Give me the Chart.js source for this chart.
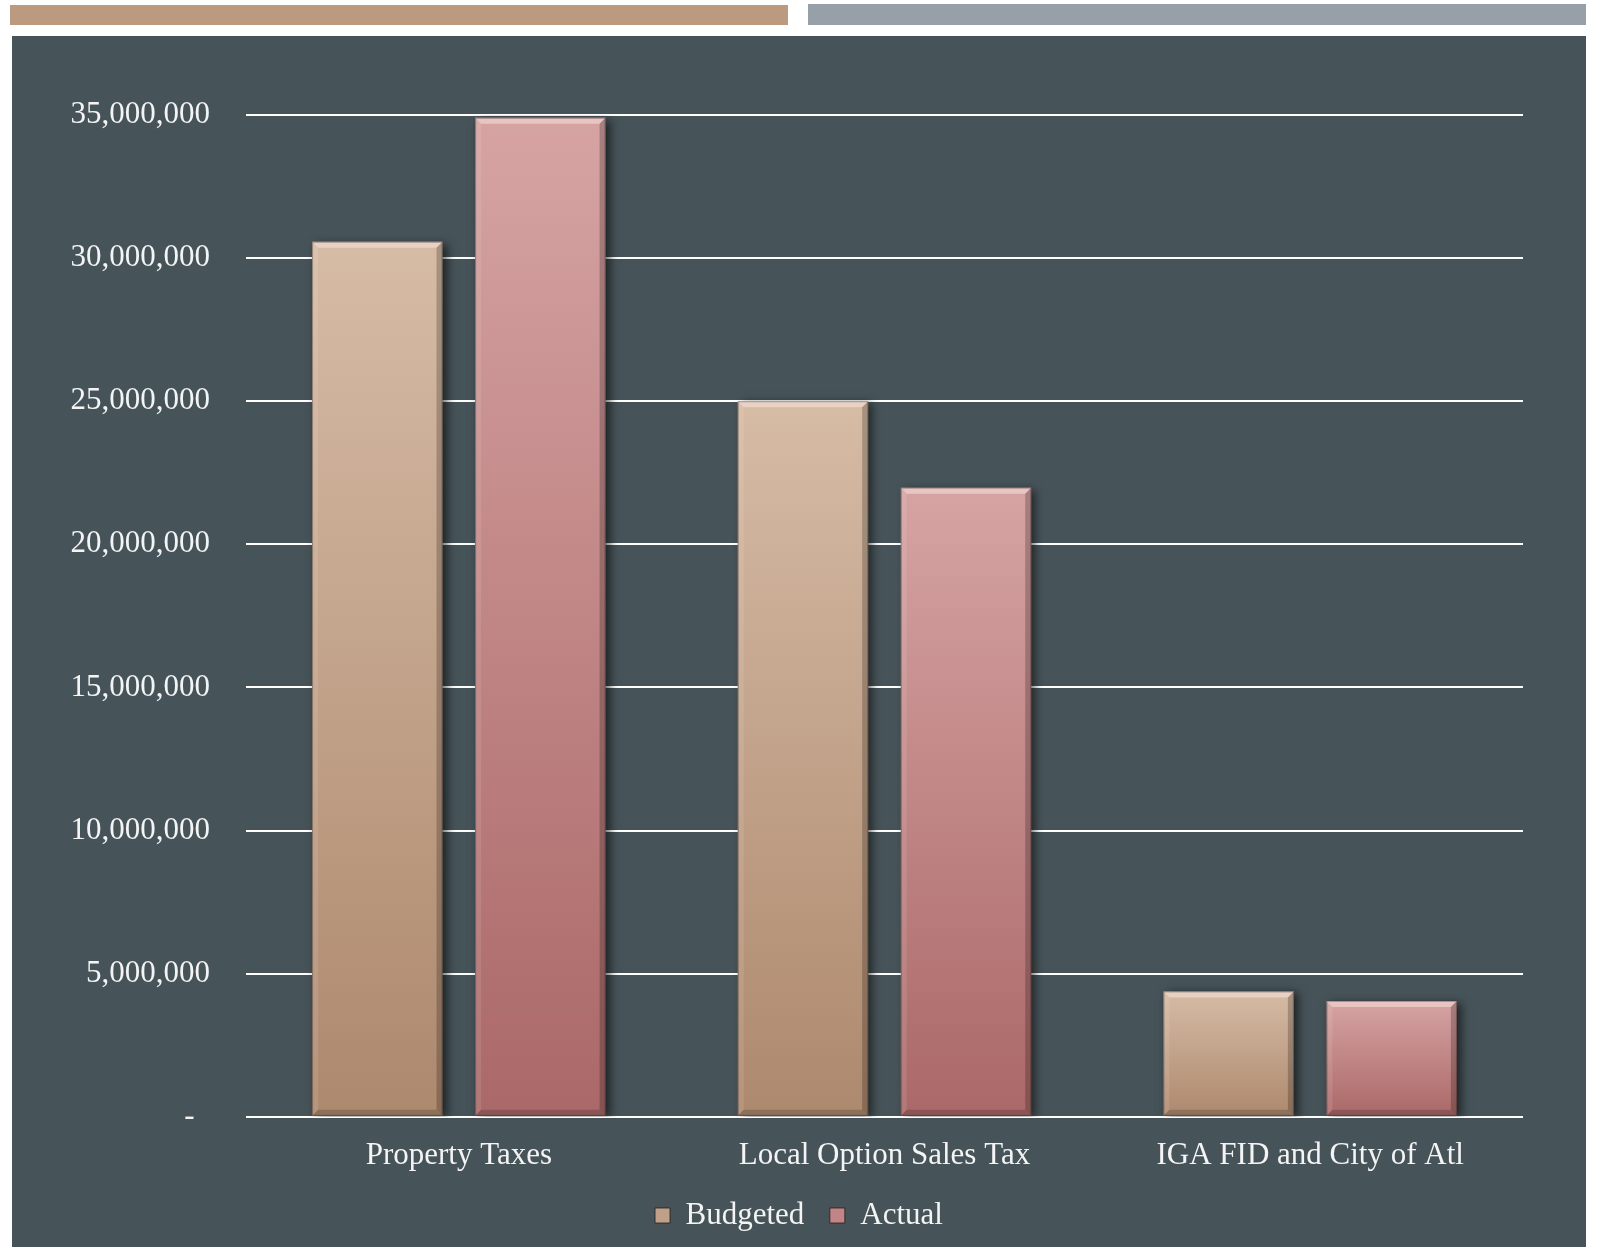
<!DOCTYPE html>
<html>
<head>
<meta charset="utf-8">
<script src="https://cdn.jsdelivr.net/npm/chart.js@4"></script>
<style>
  html, body { margin: 0; padding: 0; background: #ffffff; }
  body { width: 1601px; height: 1249px; position: relative; overflow: hidden; }
  .bar1 { position: absolute; left: 10px; top: 5px; width: 778px; height: 20px; background: #bc9a80; }
  .bar2 { position: absolute; left: 808px; top: 4px; width: 778px; height: 21px; background: #979fa9; }
  .panel { position: absolute; left: 12px; top: 36px; width: 1574px; height: 1211px; background: #465358; }
  canvas { display: block; }
</style>
</head>
<body>
<div class="bar1"></div>
<div class="bar2"></div>
<div class="panel"><canvas id="c" width="1574" height="1211"></canvas></div>
<script>
const categories = ["Property Taxes", "Local Option Sales Tax", "IGA FID and City of Atl"];
const seriesNames = ["Budgeted", "Actual"];
const budgeted = [30570000, 25000000, 4380000];
const actual = [34900000, 21980000, 4050000];
const yTicks = [0, 5000000, 10000000, 15000000, 20000000, 25000000, 30000000, 35000000];

const FONT = "'Liberation Serif', 'Times New Roman', serif";
const TEXT = '#f4f4f4';
const palettes = [
  { top: '#d6bba5', bottom: '#ad896e', solid: '#c0a088' },
  { top: '#d6a3a3', bottom: '#ab6868', solid: '#c28585' }
];

function barGradient(pal) {
  return function (ctx) {
    if (ctx.type !== 'data' || ctx.raw == null) return pal.solid;
    const chart = ctx.chart;
    const ys = chart.scales.y;
    if (!ys) return pal.solid;
    const yTop = ys.getPixelForValue(ctx.raw);
    const yBase = ys.getPixelForValue(0);
    if (!isFinite(yTop) || !isFinite(yBase) || yTop === yBase) return pal.solid;
    const g = chart.ctx.createLinearGradient(0, yTop, 0, yBase);
    g.addColorStop(0, pal.top);
    g.addColorStop(1, pal.bottom);
    return g;
  };
}

function poly(c, pts, fill) {
  c.beginPath();
  c.moveTo(pts[0][0], pts[0][1]);
  for (let i = 1; i < pts.length; i++) c.lineTo(pts[i][0], pts[i][1]);
  c.closePath();
  c.fillStyle = fill;
  c.fill();
}

const bevelPlugin = {
  id: 'bevel',
  beforeDatasetsDraw(chart) {
    const c = chart.ctx;
    c.save();
    c.shadowColor = 'rgba(0,0,0,0.6)';
    c.shadowBlur = 9;
    c.shadowOffsetX = 4;
    c.shadowOffsetY = 2;
  },
  afterDatasetsDraw(chart) {
    const c = chart.ctx;
    c.restore();
    const b = 6;
    chart.data.datasets.forEach((ds, di) => {
      const meta = chart.getDatasetMeta(di);
      meta.data.forEach(el => {
        const w = el.width;
        const l = el.x - w / 2, r = el.x + w / 2, t = el.y, bot = el.base;
        poly(c, [[l, t], [r, t], [r - b, t + b], [l + b, t + b]], 'rgba(255,240,235,0.45)');
        poly(c, [[l, t], [l + b, t + b], [l + b, bot - b], [l, bot]], 'rgba(255,255,255,0.10)');
        poly(c, [[r, t], [r - b, t + b], [r - b, bot - b], [r, bot]], 'rgba(0,0,0,0.22)');
        poly(c, [[l, bot], [l + b, bot - b], [r - b, bot - b], [r, bot]], 'rgba(0,0,0,0.18)');
        c.strokeStyle = 'rgba(40,30,30,0.35)';
        c.lineWidth = 1;
        c.strokeRect(l + 0.5, t + 0.5, w - 1, bot - t - 1);
      });
    });
  }
};

new Chart(document.getElementById('c'), {
  type: 'bar',
  data: {
    labels: categories,
    datasets: [
      { label: seriesNames[0], data: budgeted, backgroundColor: barGradient(palettes[0]), borderWidth: 0 },
      { label: seriesNames[1], data: actual, backgroundColor: barGradient(palettes[1]), borderWidth: 0 }
    ]
  },
  options: {
    responsive: false,
    animation: false,
    devicePixelRatio: 1,
    categoryPercentage: 0.766,
    barPercentage: 0.8,
    layout: { padding: { top: 79, right: 0, left: 0, bottom: 6 } },
    plugins: {
      tooltip: { enabled: false },
      legend: {
        position: 'bottom',
        labels: {
          color: TEXT,
          font: { family: FONT, size: 31 },
          boxWidth: 15,
          boxHeight: 15,
          padding: 10,
          generateLabels(chart) {
            return chart.data.datasets.map((ds, i) => ({
              text: i === 0 ? ds.label + '  ' : ds.label,
              fillStyle: palettes[i].solid,
              strokeStyle: 'rgba(40,30,30,0.8)',
              lineWidth: 1,
              fontColor: TEXT,
              datasetIndex: i,
              hidden: false
            }));
          }
        }
      }
    },
    scales: {
      x: {
        afterFit(scale) { scale.height -= 4; },
        grid: { display: false, drawTicks: false },
        border: { display: false },
        ticks: { color: TEXT, font: { family: FONT, size: 31 }, padding: 20, maxRotation: 0 }
      },
      y: {
        min: 0,
        max: 35000000,
        afterBuildTicks(scale) { scale.ticks = yTicks.map(v => ({ value: v })); },
        afterFit(scale) { scale.width = 234; },
        grid: { color: '#ffffff', lineWidth: 2, drawTicks: false },
        border: { display: false },
        ticks: {
          color: TEXT,
          font: { family: FONT, size: 31 },
          padding: 36,
          callback(v) { return v === 0 ? '-  ' : v.toLocaleString('en-US'); }
        }
      },
      yRight: {
        position: 'right',
        display: true,
        afterFit(scale) { scale.width = 63; },
        grid: { display: false, drawTicks: false },
        border: { display: false },
        ticks: { display: false }
      }
    }
  },
  plugins: [bevelPlugin]
});
</script>
</body>
</html>
